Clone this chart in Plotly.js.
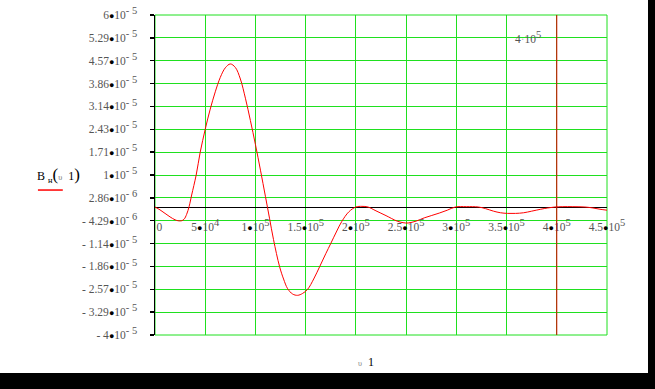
<!DOCTYPE html>
<html>
<head>
<meta charset="utf-8">
<script src="https://cdn.plot.ly/plotly-3.0.1.min.js"></script>
<style>html,body{margin:0;padding:0;background:#fff;}#chart{width:655px;height:389px;}</style>
</head>
<body>
<div id="chart"></div>
<script>
// Series
var u1 = [0, 5000, 10000, 15000, 20000, 23000, 26500, 29000, 31500, 34000, 36500, 41000, 45000, 50000, 55000, 60000, 65000, 70000, 75000, 80000, 85000, 90000, 95000, 100000, 105000, 110000, 114000, 118000, 124000, 128000, 132000, 137000, 142000, 147000, 152000, 158000, 164000, 170000, 175000, 181000, 186000, 193000, 200000, 206000, 212000, 220000, 230000, 241000, 247000, 252000, 260000, 268000, 275000, 283000, 291000, 299000, 310000, 322000, 329000, 337000, 344000, 351000, 359000, 367000, 375000, 384000, 391000, 398000, 406000, 416000, 428000, 436000, 443000, 450000];
var Bn = [0, -0.9e-6, -2.0e-6, -3.1e-6, -4.0e-6, -4.3e-6, -4.3e-6, -3.8e-6, -2.3e-6, 0.2e-6, 3.75e-6, 1.0e-5, 1.71e-5, 2.43e-5, 3.06e-5, 3.6e-5, 4.05e-5, 4.35e-5, 4.47e-5, 4.36e-5, 4.0e-5, 3.4e-5, 2.7e-5, 1.95e-5, 1.15e-5, 3.2e-6, -3.5e-6, -1.02e-5, -1.86e-5, -2.25e-5, -2.55e-5, -2.72e-5, -2.76e-5, -2.7e-5, -2.57e-5, -2.25e-5, -1.86e-5, -1.46e-5, -1.14e-5, -7.5e-6, -4.5e-6, -1.5e-6, 0, 0.2e-6, 0, -1.2e-6, -2.7e-6, -4.4e-6, -4.9e-6, -5.0e-6, -4.4e-6, -3.4e-6, -2.7e-6, -1.9e-6, -1.0e-6, 0, 0.1e-6, 0, -0.5e-6, -1.3e-6, -1.8e-6, -2.0e-6, -2.0e-6, -1.8e-6, -1.3e-6, -0.7e-6, -0.3e-6, 0, 0.1e-6, 0.1e-6, 0, -0.3e-6, -0.7e-6, -1.0e-6];

// Tick values and labels
var yTickVals = [6e-5, 5.2857e-5, 4.5714e-5, 3.8571e-5, 3.1429e-5, 2.4286e-5, 1.7143e-5, 1e-5, 2.857e-6, -4.286e-6, -1.1429e-5, -1.8571e-5, -2.5714e-5, -3.2857e-5, -4e-5];
var yTickMant = ["6", "5.29", "4.57", "3.86", "3.14", "2.43", "1.71", "1", "2.86", "- 4.29", "- 1.14", "- 1.86", "- 2.57", "- 3.29", "- 4"];
var yTickExp = ["- 5", "- 5", "- 5", "- 5", "- 5", "- 5", "- 5", "- 5", "- 6", "- 6", "- 5", "- 5", "- 5", "- 5", "- 5"];
var xTickVals = [0, 50000, 100000, 150000, 200000, 250000, 300000, 350000, 400000, 450000];
var xTickMant = ["&nbsp;&nbsp;&nbsp;0", "5", "1", "1.5", "2", "2.5", "3", "3.5", "4", "4.5"];
var xTickExp = ["", "4", "5", "5", "5", "5", "5", "5", "5", "5"];
var markerX = 400000;
var markerLabelX = 371500;
var markerLabelY = 5.3e-5;

function sci(m, e) {
  if (e === "") return m;
  return m + "<span style='color:#000;font-size:9px'>●</span>10<sup><span style='font-size:10.5px'>" + e + "</span></sup>";
}
var yTickText = yTickMant.map(function (m, i) { return sci(m, yTickExp[i]); });
var xTickText = xTickMant.map(function (m, i) { return sci(m, xTickExp[i]); });

var green = "#1fe01f";
var serif = "Liberation Serif, Times New Roman, serif";
var font = {family: serif, size: 11.5, color: "#555"};

var trace = {
  x: u1, y: Bn, type: "scatter", mode: "lines",
  line: {color: "#ff0000", width: 1, shape: "spline", smoothing: 1},
  hoverinfo: "skip", showlegend: false
};

var layout = {
  width: 655, height: 389,
  margin: {l: 155, r: 48, t: 15, b: 54},
  paper_bgcolor: "#ffffff", plot_bgcolor: "#ffffff",
  font: font,
  showlegend: false,
  xaxis: {
    range: [0, 450000], anchor: "free", position: (4e-5 - 4.286e-6) / 1e-4,
    tickmode: "array", tickvals: xTickVals, ticktext: xTickText,
    showgrid: true, gridcolor: green, gridwidth: 1,
    zeroline: false, showline: false, ticks: "", tickfont: font,
    ticklabelstandoff: -2, fixedrange: true
  },
  yaxis: {
    range: [-4e-5, 6e-5],
    tickmode: "array", tickvals: yTickVals, ticktext: yTickText,
    showgrid: true, gridcolor: green, gridwidth: 1,
    zeroline: true, zerolinecolor: "#000", zerolinewidth: 1,
    showline: true, linecolor: "#000", linewidth: 1.5,
    ticks: "outside", ticklen: 4, tickcolor: "#000", tickwidth: 1.5,
    tickfont: font, ticklabelstandoff: 10, fixedrange: true
  },
  shapes: [
    {type: "rect", xref: "paper", yref: "paper", x0: 0, x1: 1, y0: 0, y1: 1, line: {color: green, width: 1}, layer: "below"},
    {type: "line", xref: "x", yref: "paper", x0: markerX, x1: markerX, y0: 0, y1: 1, line: {color: "#e00000", width: 1}},
    {type: "line", xref: "paper", yref: "paper", x0: -0.259, x1: -0.204, y0: 0.453, y1: 0.453, line: {color: "#ff0000", width: 1.5}},
    {type: "rect", xref: "paper", yref: "paper", x0: 1.0907, x1: 1.12, y0: -0.12, y1: 1.06, fillcolor: "#000", line: {width: 0}, layer: "above"},
    {type: "rect", xref: "paper", yref: "paper", x0: -0.36, x1: 1.12, y0: -0.18, y1: -0.119, fillcolor: "#000", line: {width: 0}, layer: "above"}
  ],
  annotations: [
    {xref: "paper", yref: "paper", x: -0.213, y: 0.5, xanchor: "center", yanchor: "middle", showarrow: false,
     text: "B <sub>н</sub><span style='font-size:17px'>(</span><span style='font-size:8px;color:#777'>υ</span>&nbsp;&nbsp;1<span style='font-size:17px'>)</span>",
     font: {family: serif, size: 12, color: "#000"}},
    {xref: "paper", yref: "paper", x: 0.467, y: -0.084, xanchor: "center", yanchor: "middle", showarrow: false,
     text: "<span style='font-size:8px;color:#888'>υ</span>&nbsp;&nbsp;1",
     font: {family: serif, size: 12, color: "#000"}},
    {xref: "x", yref: "y", x: markerLabelX, y: markerLabelY, xanchor: "center", yanchor: "middle", showarrow: false,
     text: "4<span style='color:#bbb'>·</span>10<sup><span style='font-size:10.5px'>5</span></sup>",
     font: {family: serif, size: 11.5, color: "#555"}}
  ]
};

Plotly.newPlot("chart", [trace], layout, {staticPlot: true, displayModeBar: false});
</script>
</body>
</html>
